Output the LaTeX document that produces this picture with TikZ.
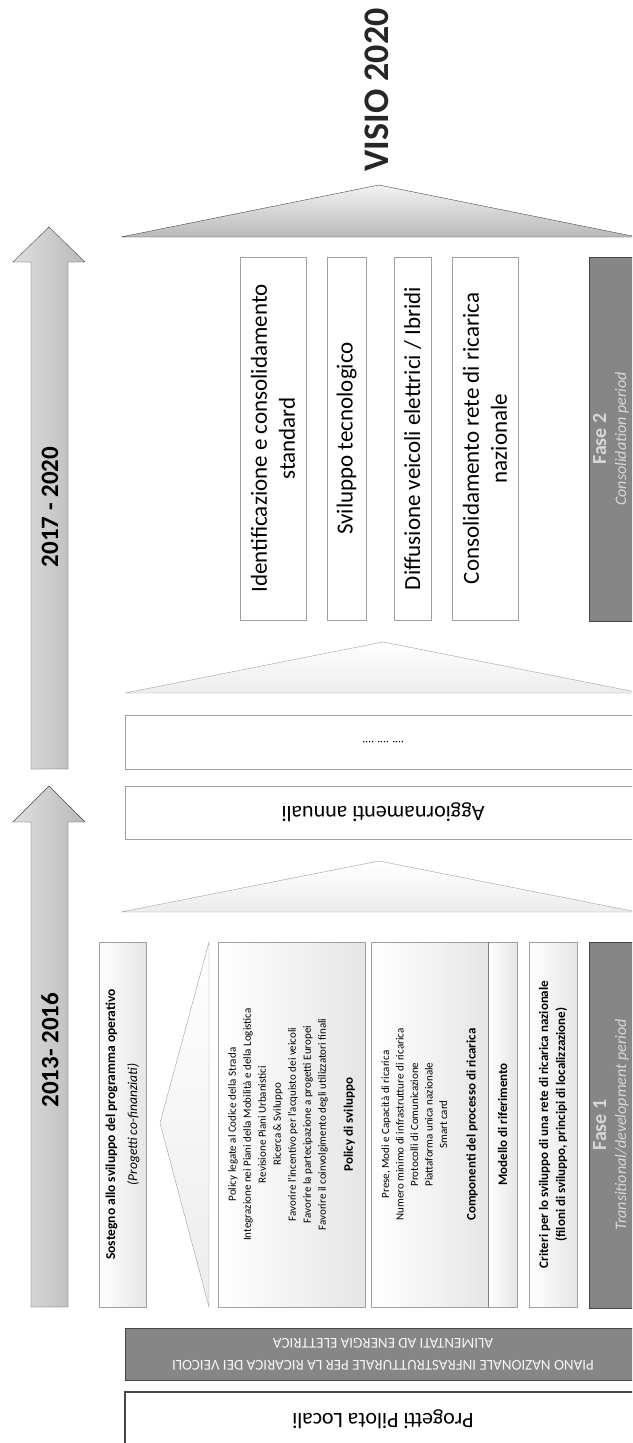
\documentclass[tikz,border=0pt]{standalone}
\usepackage{fontspec}
\setmainfont{Carlito}
\usepackage{tikz}
\usetikzlibrary{positioning}
\definecolor{boxEdge}{RGB}{160,160,160}
\definecolor{darkEdge}{RGB}{70,70,70}
\definecolor{faseFill}{RGB}{134,134,134}
\definecolor{faseText}{RGB}{215,215,215}
\newcommand{\fsz}[2]{\fontsize{#1}{#2}\selectfont}

\begin{document}
\begin{tikzpicture}[x=1pt,y=-1pt,
  tbox/.style={draw=boxEdge,fill=white,rotate=90,align=center,inner sep=0pt,font=\fsz{23}{28}},
  pbox/.style={draw=boxEdge,left color=white,right color=gray!20,inner sep=0pt,minimum height=365pt},
  ptext/.style={rotate=90,align=center},
  ubox/.style={draw=boxEdge,fill=white,rotate=180,inner sep=0pt},
  fasebox/.style={draw=darkEdge,fill=faseFill,inner sep=0pt},
  fasename/.style={rotate=90,anchor=base,text=faseText,font=\bfseries\fsz{20}{22}},
  fasesub/.style={rotate=90,anchor=base,text=faseText,font=\itshape\fsz{16}{22}},
  year/.style={rotate=90,font=\bfseries\fsz{25}{25}},
  bigarrow/.style={draw=darkEdge,left color=gray!25,middle color=gray!8,right color=gray!55},
  pyramid/.style={draw=boxEdge,top color=white,bottom color=gray!15}]
\useasboundingbox (0,0) rectangle (632,1443);
\clip (0,0) rectangle (632,1443);

% timeline arrows
\draw[bigarrow] (31,769) -- (31,262) -- (13,262) -- (49,227) -- (85,262) -- (68,262) -- (68,769) -- cycle;
\draw[bigarrow] (31,1307) -- (31,822) -- (13,822) -- (49,786) -- (85,822) -- (68,822) -- (68,1307) -- cycle;
\node[year] (y2) at (50,507) {2017 - 2020};
\node[year] (y1) at (50,1050) {2013- 2016};

% vision
\node[rotate=90,font=\bfseries\fsz{36}{36},text=black!85] (visio) at (377,90) {VISIO 2020};
\draw[draw=darkEdge,top color=gray!10,bottom color=gray!55] (121,237) -- (379,185) -- (637,237) -- cycle;

% phase 2
\node[tbox,minimum width=363pt,minimum height=66pt] (ident) at (273,438.5) {Identificazione e consolidamento\\standard};
\node[tbox,minimum width=363pt,minimum height=39pt] (svil) at (346.5,438.5) {Sviluppo tecnologico};
\node[tbox,minimum width=363pt,minimum height=37pt] (diff) at (412.5,438.5) {Diffusione veicoli elettrici / Ibridi};
\node[tbox,minimum width=363pt,minimum height=66pt] (cons) at (485,438.5) {Consolidamento rete di ricarica\\nazionale};
\node[fasebox,minimum width=80pt,minimum height=364pt] (fase2) at (629,439) {};
\node[fasename] (fase2lbl) at (606,439) {Fase 2};
\node[fasesub] (fase2sub) at (626,439) {Consolidation period};

\draw[pyramid] (125,693) -- (383,642) -- (641,693) -- cycle;
\node[ubox,minimum width=516pt,minimum height=54pt,font=\fsz{12}{14}] (dots) at (383,742) {…. …. ….};
\node[ubox,minimum width=516pt,minimum height=53pt,font=\fsz{22}{26}] (agg) at (383,812.5) {Aggiornamenti annuali};
\draw[pyramid] (121,912) -- (379,861) -- (637,912) -- cycle;

% phase 1
\node[pbox,minimum width=47pt] (sost) at (122.5,1124.5) {};
\node[ptext,font=\fsz{13.5}{22}] (sosttxt) at (sost) {{\bfseries Sostegno allo sviluppo del programma operativo}\\{\itshape(Progetti co-finanziati)}};
\draw[pyramid] (209,942) -- (209,1307) -- (160,1123) -- cycle;
\node[pbox,minimum width=147pt] (policy) at (291.5,1124.5) {};
\node[ptext,font=\fsz{11}{15}] (policytxt) at (policy) {Policy legate al Codice della Strada\\Integrazione  nei Piani della Mobilità e della Logistica\\Revisione Piani Urbanistici\\Ricerca \& Sviluppo\\Favorire l'incentivo per l'acquisto dei veicoli\\Favorire la partecipazione a progetti Europei\\Favorire il coinvolgimento degli utilizzatori finali\\[12pt]{\bfseries\fsz{13}{15}Policy di sviluppo}};
\node[pbox,minimum width=117pt] (comp) at (429.5,1124.5) {};
\node[ptext,font=\fsz{11}{14.5}] (comptxt) at (comp) {Prese, Modi e Capacità di ricarica\\Numero minimo di infrastrutture di ricarica\\Protocolli di Comunicazione\\Piattaforma unica nazionale\\Smart card\\[14pt]{\bfseries\fsz{13}{15}Componenti  del processo di ricarica}};
\node[pbox,minimum width=29pt] (mod) at (502.5,1124.5) {};
\node[ptext,font=\bfseries\fsz{13}{15}] (modtxt) at (mod) {Modello di riferimento};
\draw[darkEdge!70] (comp.north east) -- (comp.south east);
\node[pbox,minimum width=48pt] (crit) at (553,1124.5) {};
\node[ptext,font=\bfseries\fsz{13}{17}] (crittxt) at (crit) {Criteri per lo sviluppo di una rete di ricarica nazionale\\(filoni di sviluppo, principi di localizzazione)};
\node[fasebox,minimum width=80pt,minimum height=366pt] (fase1) at (629,1125) {};
\node[fasename] (fase1lbl) at (606,1125) {Fase 1};
\node[fasesub] (fase1sub) at (626,1125) {Transitional/development period};

% base
\node[fasebox,rotate=180,minimum width=516pt,minimum height=52pt,align=center,text=white!92!gray,font=\fsz{15}{22}] (piano) at (383,1354) {PIANO NAZIONALE INFRASTRUTTURALE PER LA RICARICA DEI VEICOLI\\ALIMENTATI AD ENERGIA ELETTRICA};
\node[draw=darkEdge,line width=1.5pt,fill=white,rotate=180,minimum width=516pt,minimum height=54pt,font=\fsz{22}{26}] (pilota) at (383,1419) {Progetti Pilota Locali};
\end{tikzpicture}
\end{document}
